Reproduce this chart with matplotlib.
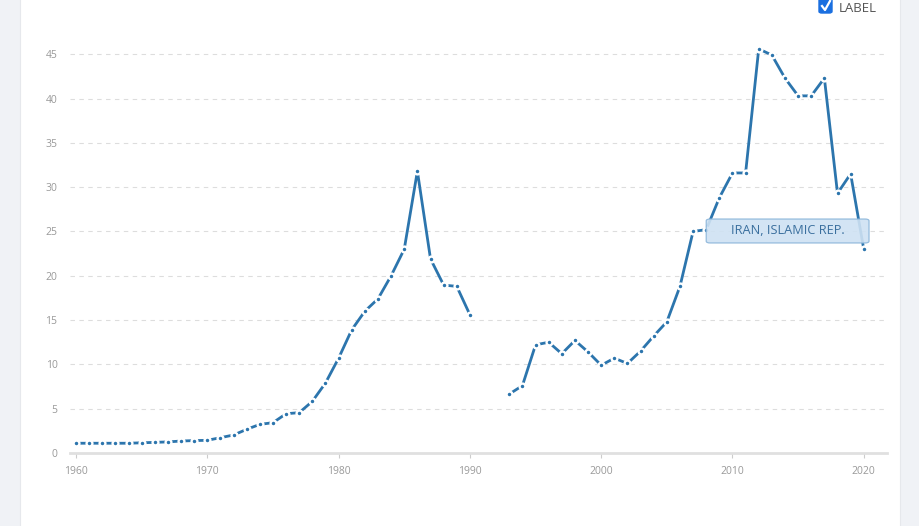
import numpy as np
import matplotlib.pyplot as plt
from matplotlib.patches import Rectangle, FancyBboxPatch
from matplotlib.lines import Line2D

plt.rcParams['font.family'] = ['Open Sans', 'DejaVu Sans']

years = list(range(1960, 2021))
values = [1.1, 1.1, 1.1, 1.1, 1.1, 1.15, 1.2, 1.25, 1.35, 1.4,
          1.43, 1.73, 2.03, 2.67, 3.23, 3.42, 4.43, 4.55, 5.83, 7.9,
          10.7, 13.9, 16.0, 17.4, 20.0, 23.0, 31.8, 21.9, 18.95, 18.8,
          15.6, np.nan, np.nan, 6.65, 7.6, 12.2, 12.5, 11.2, 12.7, 11.4,
          9.9, 10.7, 10.1, 11.5, 13.2, 14.8, 18.8, 25.0, 25.2, 28.8,
          31.6, 31.6, 45.6, 44.9, 42.3, 40.3, 40.3, 42.3, 29.3, 31.5,
          23.0]
yticks = list(range(0, 50, 5))
xticks = [1960, 1970, 1980, 1990, 2000, 2010, 2020]
series_name = "IRAN, ISLAMIC REP."

line_color = '#2c75ad'

fig = plt.figure(figsize=(9.2, 5.26), dpi=100)
fig.patch.set_facecolor('#f0f2f6')
fig.patches.append(Rectangle((20 / 920, -0.01), 880 / 920, 1.02, transform=fig.transFigure,
                             facecolor='white', edgecolor='#e6e8ec', lw=0.8, zorder=-10))

ax = fig.add_axes([70 / 920, 0.1388, 817 / 920, 0.775])
ax.set_zorder(1)
ax.set_facecolor('none')

ax.plot(years, values, color=line_color, lw=2, solid_capstyle='butt', zorder=3)
ax.plot(years, values, 'o', color=line_color, ms=4.2, mec='white', mew=1.7, zorder=4)

ax.set_xlim(1959.54, 2021.77)
ax.set_ylim(0, 46)
ax.set_yticks(yticks)
ax.set_xticks(xticks)
ax.grid(axis='y', color='#dddddd', linestyle=(0, (4, 4)), lw=0.8)
ax.set_axisbelow(True)

for s in ['top', 'right', 'left']:
    ax.spines[s].set_visible(False)
ax.spines['bottom'].set_color('#e0e0e0')
ax.spines['bottom'].set_linewidth(2)

ax.tick_params(axis='y', length=0, pad=9, labelsize=7.5, labelcolor='#999999')
ax.tick_params(axis='x', length=3.5, width=0.8, color='#cccccc', pad=6,
               labelsize=7.5, labelcolor='#999999')

# series label box
ax.add_patch(FancyBboxPatch((2008.0, 23.7), 12.4, 2.7,
                            boxstyle='round,pad=0,rounding_size=0.3',
                            mutation_aspect=0.7,
                            fc='#cfe2f3', ec='#8cb6da', lw=0.9, alpha=0.9, zorder=5))
ax.text(2014.2, 25.05, series_name, ha='center', va='center', fontsize=9.2,
        color='#3a6f9e', zorder=6)

# checkbox legend at top right
fig.patches.append(FancyBboxPatch((819 / 920, 1 - 13 / 526), 13 / 920, 15 / 526,
                                  boxstyle='round,pad=0,rounding_size=0.003',
                                  transform=fig.transFigure, fc='#1a6fe0',
                                  ec='#1a6fe0', zorder=5))
fig.lines.append(Line2D([822 / 920, 825 / 920, 830 / 920],
                        [1 - 6 / 526, 1 - 10 / 526, 1 - 1 / 526],
                        transform=fig.transFigure, color='white', lw=1.6, zorder=6))
fig.text(839 / 920, 1 - 1.5 / 526, "LABEL", ha='left', va='top', fontsize=9.5,
         color='#555555')

fig.savefig('out.png', dpi=100, facecolor=fig.get_facecolor())
